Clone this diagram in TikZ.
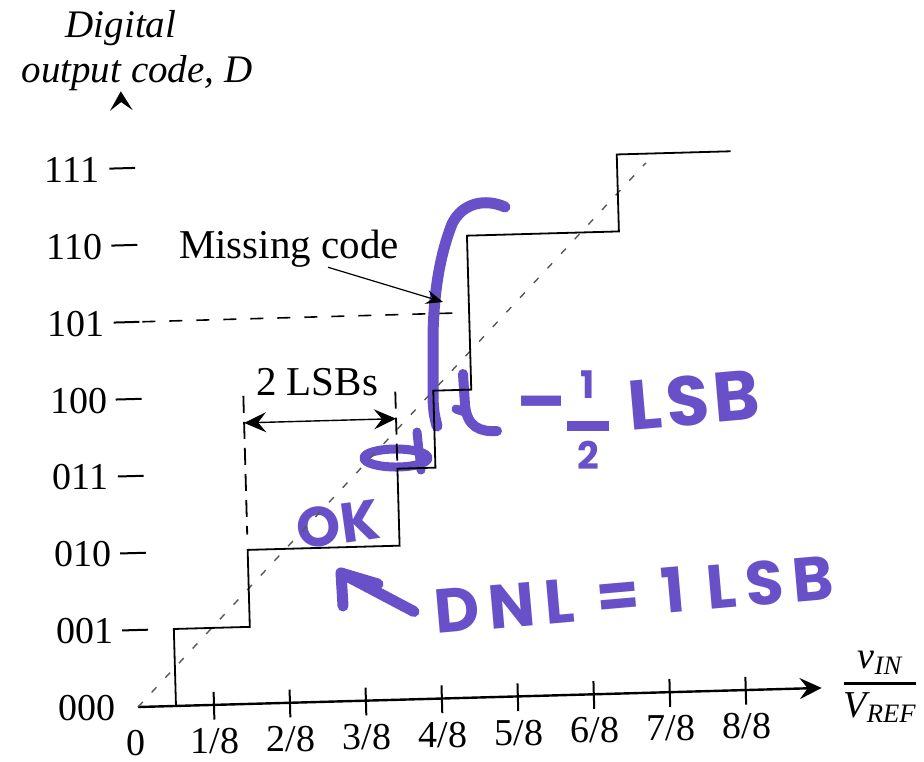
\documentclass[tikz,border=0pt]{standalone}
\usepackage{fontspec}
\usepackage{amsmath}
\setmainfont{Liberation Serif}
\newfontfamily\handfont{Poppins}
\usetikzlibrary{arrows.meta}
\definecolor{marker}{RGB}{104,80,200}

\tikzset{
  axisline/.style={line width=1.2pt, -{Stealth[length=11pt,width=10.5pt,inset=4pt]}},
  tickmark/.style={line width=1pt},
  stair/.style={line width=0.9pt, line join=miter},
  ideal/.style={line width=0.7pt, draw=black!65, dash pattern=on 3.5pt off 6.5pt},
  guide/.style={line width=0.9pt, dash pattern=on 8.5pt off 4.5pt},
  codeline/.style={line width=0.8pt, dash pattern=on 6.5pt off 7pt},
  dimarrow/.style={line width=0.7pt, {Stealth[length=11pt,width=10pt,inset=4pt]}-{Stealth[length=11pt,width=10pt,inset=4pt]}},
  pointer/.style={line width=0.6pt, -{Stealth[length=8.5pt,width=7pt,inset=3pt]}},
  codelabel/.style={font=\fontsize{19}{22}\selectfont, inner sep=0pt},
  note/.style={font=\fontsize{20.5}{24}\selectfont, inner sep=0pt},
  axtitle/.style={font=\fontsize{19.5}{23}\selectfont\itshape, inner sep=0pt},
  ink/.style={draw=marker, line width=5.5pt, line cap=round, line join=round},
  inktext/.style={text=marker, inner sep=0pt},
}

\begin{document}
\begin{tikzpicture}[x=0.5pt,y=-0.5pt]
\fill[white] (0,0) rectangle (924,761);
\useasboundingbox (0,0) rectangle (924,761);

% ---------- marker annotations (printed lines show through) ----------
\draw[ink] (505,207) .. controls (485,198) and (462,203) .. (452,224)
           .. controls (440,255) and (434,290) .. (433,335) -- (433,400)
           .. controls (434,414) .. (437,426);
\draw[ink, line width=5pt] (463,374) -- (465,405) .. controls (467,427) and (480,432) .. (497,431);
\draw[ink, line width=4.5pt] (456,409) -- (465,412);
\draw[ink, line width=4.5pt] (396,458) ellipse [x radius=16pt, y radius=4.5pt];
\draw[ink, line width=4.5pt] (417,432) -- (421,470);

\node[inktext, font=\handfont\bfseries\fontsize{31}{36}\selectfont\addfontfeature{LetterSpace=15}, rotate=5]
  (dnl) at (634,594) {DNL = 1 LSB};
\coordinate (dnlTip) at (341,573);
\draw[ink] ([xshift=-10pt]dnl.west) -- (dnlTip);
\draw[ink] (343,606) -- (dnlTip) -- (378,584);

\node[inktext, font=\handfont\bfseries\fontsize{36}{40}\selectfont] (minus) at (542,411) {\textendash};
\node[inktext, font=\handfont\bfseries\fontsize{19}{17}\selectfont] (half) at (588,425)
  {\begin{tabular}{@{}c@{}}1\\[-1pt]\rule{1.1em}{0.24em}\\2\end{tabular}};
\node[inktext, font=\handfont\bfseries\fontsize{35}{40}\selectfont\addfontfeature{LetterSpace=6}, rotate=5] (lsb) at (694,400) {LSB};
\node[inktext, font=\handfont\bfseries\fontsize{28}{32}\selectfont, rotate=8] (ok) at (338,524) {OK};

% ---------- transfer characteristic (axes slightly tilted) ----------
\begin{scope}[shift={(138,707)}, rotate=1.6, x=38pt, y=38.5pt]
  \coordinate (O) at (0,0);
  \coordinate (xEnd) at (9.0,0);
  \coordinate (yTip) at (0,8.0);
  \draw[axisline] (O) -- (xEnd);
  \fill (yTip) -- ++(0.15,-0.25) -- ++(-0.15,0.11) -- ++(-0.15,-0.11) -- cycle;

  \foreach \k in {1,...,8} {
    \draw[tickmark] (\k,0.17) -- (\k,-0.19);
    \node[codelabel] (xl\k) at (\k,-0.47) {\k/8};
  }
  \node[codelabel] (xl0) at (-0.04,-0.47) {0};

  \foreach \k/\code in {0/000,1/001,2/010,3/011,4/100,5/101,6/110,7/111}
    \node[codelabel] (yl\k) at (-0.67,\k) {\code};
  \foreach \k in {1,...,7}
    \draw[tickmark] (-0.18,\k) -- (0.16,\k);

  % ideal straight-line characteristic
  \draw[ideal] (O) -- (6.88,6.88);
  % actual staircase with the missing code 101
  \draw[stair] (0.5,0) -- (0.5,1) -- (1.5,1) -- (1.5,2) -- (3.5,2) -- (3.5,3)
               -- (4,3) -- (4,4) -- (4.5,4) -- (4.5,6) -- (6.5,6) -- (6.5,7) -- (8,7);
  \draw[codeline] (0.2,5) -- (4.42,5);

  % 2 LSB step width
  \draw[guide] (1.5,4) -- (1.5,2.2);
  \draw[guide] (3.5,4) -- (3.5,3);
  \coordinate (lsbL) at (1.5,3.65);
  \coordinate (lsbR) at (3.5,3.65);
  \draw[dimarrow] (lsbL) -- (lsbR);
\end{scope}

% ---------- printed labels ----------
\node[axtitle, anchor=base] (ttl1) at (121,37) {Digital};
\node[axtitle, anchor=base] (ttl2) at (137,82) {output code, D};
\node[note, anchor=base] (lsbs) at (317,395) {2 LSBs};
\node[note, anchor=base] (miss) at (289,258) {Missing code};
\coordinate (missTip) at (443,302);
\draw[pointer] ([xshift=19.5pt]miss.south) -- (missTip);
\node[codelabel, anchor=base] (xttl) at (880,692)
  {$\genfrac{}{}{1.3pt}{0}{\text{\itshape v}_{\text{\itshape IN}}}{\text{\itshape V}_{\text{\itshape REF}}}$};
\end{tikzpicture}
\end{document}
